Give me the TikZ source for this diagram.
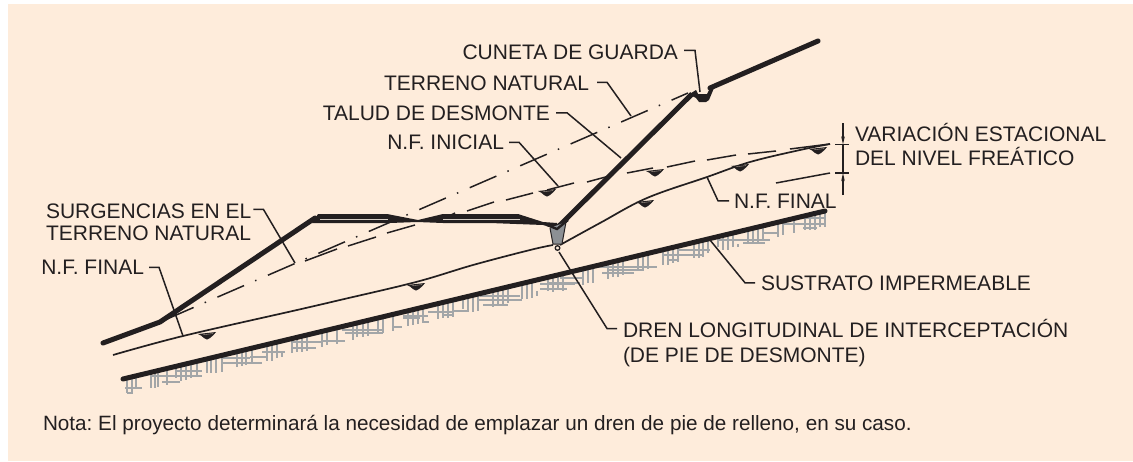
\documentclass[tikz,border=0pt]{standalone}
\usepackage{fontspec}
\setmainfont{Liberation Sans}
\usetikzlibrary{arrows.meta}
\definecolor{peach}{HTML}{FEECDB}
\definecolor{ink}{HTML}{231F20}
\definecolor{hatch}{HTML}{A3A6A8}
\definecolor{draingrey}{HTML}{8C9094}
\tikzset{
  x=1pt,y=-1pt,
  lbl/.style={inner sep=0pt,outer sep=0pt,text=ink,font=\frenchspacing\fontsize{21}{25}\selectfont,align=left},
  notelbl/.style={lbl,font=\frenchspacing\fontsize{20.7}{25}\selectfont},
  leader/.style={draw=ink,line width=1.5pt,line join=miter},
  ground/.style={draw=ink,line width=5pt,line cap=round,line join=round},
  thin curve/.style={draw=ink,line width=1.7pt},
  fnat/.style={draw=ink,line width=1.5pt},
  hatchline/.style={draw=hatch,line width=1.3pt},
  tick/.style={draw=ink,line width=1.5pt},
  wmark/.pic={
    \fill[ink] (-9,-1) -- (9,-3) -- (6.5,0) -- (3,3) -- (0,4.5) -- (-3,3) -- (-6,0.5) -- cycle;
    \draw[peach!60!ink,line width=0.4pt] (-4,-0.2) -- (6,-1.4);
  }
}
\begin{document}
\begin{tikzpicture}
\useasboundingbox (0,0) rectangle (1133,461);
\fill[peach] (8,4) rectangle (1133,461);

% hatching of the impermeable substrate
\foreach \xa/\ya/\yb in {127/379/393,132/378/393,136/377/388,151/373/388,155/372/388,158/371/387,167/369/385,176/367/378,181/366/381,186/364/380,191/363/378,197/362/377,207/360/373,211/359/373,216/358/373,222/356/372,237/352/367,242/351/366,246/350/365,252/349/364,267/345/361,272/344/361,277/343/358,282/353/357,292/339/353,297/338/352,302/337/352,307/335/351,322/332/347,327/331/345,337/328/344,353/324/340,357/323/337,363/322/337,368/320/336,378/318/333,383/317/333,393/315/331,408/311/326,413/310/325,418/309/324,423/307/323,438/304/319,443/303/318,448/302/318,453/300/317,463/298/309,468/297/312,473/295/312,478/294/311,493/291/307,498/289/305,503/288/305,508/287/303,522/284/299,527/282/299,532/281/298,537/291/296,548/277/291,553/276/292,558/275/290,563/274/291,583/269/285,588/268/283,593/267/283,608/263/279,613/262/277,618/261/277,623/259/275,638/256/271,643/255/271,648/253/269,663/250/265,668/249/265,673/247/263,678/246/262,694/242/258,699/241/258,703/240/257,708/239/253,718/236/247,723/235/250,728/234/250,733/233/247,738/244/247,748/229/243,753/228/243,758/227/242,763/226/241,778/222/237,783/221/235,794/218/233,805/216/230,810/214/230,815/213/230,820/212/227,825/211/227}
  {\draw[hatchline] (\xa,\ya) -- (\xa,\yb);}
\foreach \xa/\xb/\yy in {125/142/388,127/133/393,150/172/376,162/180/382,158/202/376,177/202/371,222/262/363,222/250/358,250/267/357,262/285/352,292/323/342,292/316/348,322/345/341,342/383/330,345/383/333,392/402/327,403/428/316,403/420/318,423/429/322,428/453/312,442/453/315,453/467/311,478/522/300,483/508/305,480/520/296,542/567/289,547/580/283,540/567/289,540/575/284,560/583/278,595/657/267,602/634/273,607/643/270,663/703/255,678/710/250,668/678/260,717/770/240,743/765/243,763/778/233,783/825/224,802/825/218,803/817/228}
  {\draw[hatchline] (\xa,\yy) -- (\xb,\yy);}

% substrate
\coordinate (subA) at (123,379);
\coordinate (subB) at (825,211);
\draw[ground] (subA) -- (subB);

% N.F. final
\draw[thin curve] plot[smooth,tension=0.6] coordinates {(113,355) (183,336) (297,310) (340,300) (416,282) (473,265) (530,250) (553,245)};
\draw[thin curve] plot[smooth,tension=0.6] coordinates {(560,245) (600,223) (647,198) (707,177) (750,162) (800,150) (830,144)};

% N.F. initial (long dashes)
\foreach \xa/\ya/\xb/\yb in {305/261/337/249,348/246/376/237,387/233/415/225,443/219/455/213,467/211/494/202,506/200/533/193,547/190/574/183,587/182/613/175,627/173/653/168,667/167/695/161,707/160/736/155,748/154/776/151,790/149/830/144}
  {\draw[fnat] (\xa,\ya) -- (\xb,\yb);}
\draw[fnat] (776,183) -- (830,173);

% natural ground (dash dot)
\draw[fnat,dash pattern=on 29pt off 12pt on 1.5pt off 12.5pt] (167,319) -- (688,93);
\draw[fnat] (160,322) -- (167,319);

% water marks
\foreach \px/\py in {207/335,416/286,547/192,655/172,645/203,740/167,818/150}
  \pic at (\px,\py) {wmark};

% terrain
\draw[ground] (103,343) -- (160,322) -- (315,218);
\fill[ink,line join=round] (312,223) -- (318,214) -- (387,214) -- (418,220) -- (443,214) -- (518,214) -- (543,222) -- (557,223) -- (557,229) -- (543,225) -- (490,223) -- (443,223) -- (417,222) -- (390,223) -- cycle;
\draw[peach!55!hatch,line width=0.9pt] (320,219) -- (388,219);
\draw[peach!55!hatch,line width=0.9pt] (443,219) -- (520,219);
\draw[ground,line cap=butt] (557,228) -- (692,94);
\fill[ink] (688,95) -- (696,90) -- (698,94) -- (707,94) -- (711,86) -- (714,88) -- (709,100) -- (706,102) -- (699,102) -- (696,98) -- (692,96) -- cycle;
\draw[ground] (710,88) -- (818,41);

% drain
\fill[draingrey] (550,228) -- (566,222) -- (562,244) -- (553,244) -- cycle;
\draw[ink,line width=1pt] (550,228) -- (553,244) -- (562,244) -- (566,222);
\draw[ink,line width=2.4pt,line join=miter] (547,225) -- (557,229) -- (568,220);
\draw[ink,line width=1.3pt,fill=peach] (557.5,248) circle (2.3);

% dimension
\draw[tick,-{Stealth[length=8pt,width=3.5pt]}] (843,123) -- (843,144.5);
\draw[tick,-{Stealth[length=8pt,width=3.5pt]}] (843,195) -- (843,173);
\draw[tick] (843,144.5) -- (843,173);
\draw[tick] (835,144.5) -- (849,144.5);
\draw[tick] (835,173) -- (849,173);

% labels
\node[lbl,anchor=base east] (cg) at (678,59.5) {CUNETA DE GUARDA};
\node[lbl,anchor=base east] (tn) at (589,90.5) {TERRENO NATURAL};
\node[lbl,anchor=base east] (td) at (550,120) {TALUD DE DESMONTE};
\node[lbl,anchor=base east] (ni) at (504,149.5) {N.F. INICIAL};
\node[lbl,anchor=base west] (sg) at (46,218.5) {SURGENCIAS EN EL};
\node[lbl,anchor=base west] (st) at (46,240.5) {TERRENO NATURAL};
\node[lbl,anchor=base east] (nl) at (144,274.5) {N.F. FINAL};
\node[lbl,anchor=base west] (va) at (855,141.5) {VARIACIÓN ESTACIONAL};
\node[lbl,anchor=base west] (vb) at (855,165.5) {DEL NIVEL FREÁTICO};
\node[lbl,anchor=base west] (nr) at (734,208) {N.F. FINAL};
\node[lbl,anchor=base west] (su) at (761,290) {SUSTRATO IMPERMEABLE};
\node[lbl,anchor=base west] (da) at (623,337.5) {DREN LONGITUDINAL DE INTERCEPTACIÓN};
\node[lbl,anchor=base west] (db) at (623,362) {(DE PIE DE DESMONTE)};
\node[notelbl,anchor=base west] (no) at (43,430) {Nota: El proyecto determinará la necesidad de emplazar un dren de pie de relleno, en su caso.};

% leaders
\coordinate (cgE) at (700,92);
\coordinate (tnE) at (631,116);
\coordinate (tdE) at (621,158);
\coordinate (niE) at (558,186);
\coordinate (sgE) at (295,263);
\coordinate (nlE) at (183,336);
\coordinate (nrE) at (707,177);
\coordinate (suE) at (710,240);
\coordinate (daE) at (559,252);
\draw[leader] ([xshift=6pt,yshift=2pt]cg.east) -- ++(11,0) -- (cgE);
\draw[leader] ([xshift=8pt,yshift=1pt]tn.east) -- ++(10,0) -- (tnE);
\draw[leader] ([xshift=6pt]td.east) -- ++(11,0) -- (tdE);
\draw[leader] ([xshift=5pt]ni.east) -- ++(10,0) -- (niE);
\draw[leader] ([xshift=2pt,yshift=2pt]sg.east) -- ++(10,0) -- (sgE);
\draw[leader] ([xshift=5pt]nl.east) -- ++(10,0) -- (nlE);
\draw[leader] ([xshift=-5pt]nr.west) -- ++(-11,0) -- (nrE);
\draw[leader] ([xshift=-6pt]su.west) -- ++(-10,0) -- (suE);
\draw[leader] ([xshift=-6pt]da.west) -- ++(-10,0) -- (daE);
\end{tikzpicture}
\end{document}
